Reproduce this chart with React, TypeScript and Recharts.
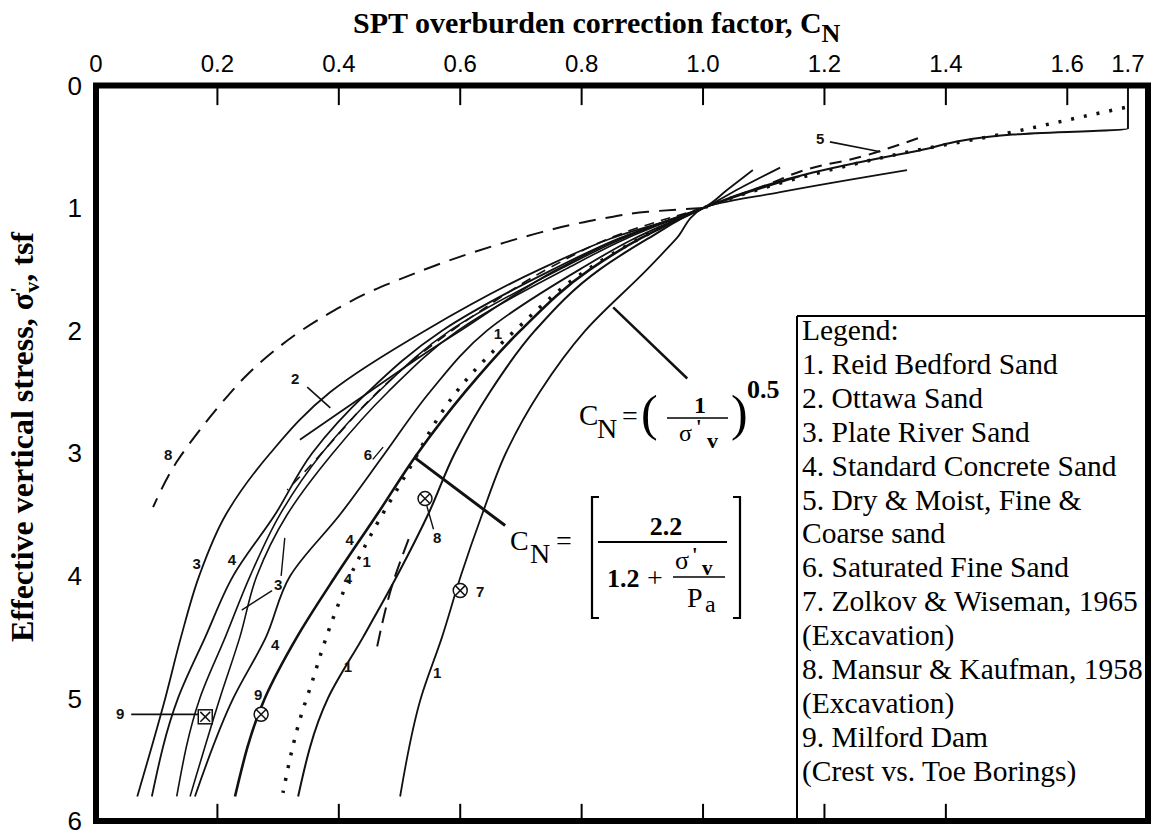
import {
  ComposedChart,
  Line,
  Scatter,
  XAxis,
  YAxis,
  ReferenceLine,
} from "recharts";

type Pt = [number, number];

// C_N (x) against effective vertical stress in tsf (y)
const PLATE_RIVER_3: Pt[] = [
  [0.068, 5.8], [0.114, 5.0], [0.14, 4.5], [0.17, 4.0], [0.214, 3.5], [0.287, 3.0],
  [0.386, 2.5], [0.542, 2.0], [0.731, 1.5], [0.847, 1.25], [1.0, 1.0], [1.04, 0.85], [1.082, 0.69],
];
const CONCRETE_4: Pt[] = [
  [0.092, 5.8], [0.135, 5.0], [0.18, 4.5], [0.226, 4.0], [0.295, 3.5], [0.356, 3.0],
  [0.448, 2.5], [0.57, 2.0], [0.753, 1.5], [0.86, 1.25], [1.0, 1.0], [1.06, 0.84], [1.127, 0.67],
];
const PLATE_RIVER_3B: Pt[] = [
  [0.133, 5.8], [0.171, 5.0], [0.213, 4.5], [0.254, 4.0], [0.303, 3.5], [0.372, 3.0],
  [0.465, 2.5], [0.583, 2.0], [0.764, 1.5], [0.867, 1.25], [1.0, 1.0], [1.07, 0.88], [1.16, 0.74],
];
const CONCRETE_4B: Pt[] = [
  [0.155, 5.8], [0.204, 5.0], [0.237, 4.5], [0.265, 4.0], [0.315, 3.5], [0.39, 3.0],
  [0.481, 2.5], [0.596, 2.0], [0.773, 1.5], [0.873, 1.25], [1.0, 1.0],
];
const SATURATED_6: Pt[] = [
  [0.163, 5.8], [0.226, 5.0], [0.28, 4.5], [0.32, 4.0], [0.402, 3.5], [0.476, 3.0],
  [0.55, 2.5], [0.644, 2.0], [0.797, 1.5], [0.886, 1.25], [1.0, 1.0],
];
const CONCRETE_4C: Pt[] = [
  [0.229, 5.8], [0.278, 5.0], [0.331, 4.5], [0.395, 4.0], [0.463, 3.5], [0.53, 3.0],
  [0.608, 2.5], [0.699, 2.0], [0.814, 1.5], [0.896, 1.25], [1.0, 1.0],
];
const REID_BEDFORD_1A: Pt[] = [
  [0.333, 5.8], [0.382, 5.0], [0.44, 4.5], [0.496, 4.0], [0.547, 3.5], [0.591, 3.0],
  [0.649, 2.5], [0.723, 2.0], [0.83, 1.5], [0.909, 1.25], [1.0, 1.0],
  [1.181, 0.71], [1.346, 0.54], [1.51, 0.4], [1.7, 0.35], [1.7, 0],
];
const REID_BEDFORD_1B: Pt[] = [
  [0.501, 5.8], [0.535, 5.0], [0.57, 4.5], [0.601, 4.0], [0.636, 3.5], [0.675, 3.0],
  [0.731, 2.5], [0.806, 2.0], [0.908, 1.5], [0.956, 1.25], [1.0, 1.0], [1.127, 0.87], [1.336, 0.69],
];
const OTTAWA_2: Pt[] = [
  [0.336, 2.89], [0.45, 2.5], [0.55, 2.16], [0.6, 2.0], [0.76, 1.5], [0.862, 1.25], [1.0, 1.0],
];
const FAN_DASHED: Pt[] = [
  [0.315, 3.3], [0.357, 3.08], [0.402, 2.83], [0.44, 2.62], [0.52, 2.25], [0.63, 1.85],
  [0.75, 1.48], [0.87, 1.2], [1.0, 1.0],
];
const SHORT_DASHED: Pt[] = [[0.463, 4.58], [0.489, 4.06], [0.515, 3.7]];
const DASHED_8: Pt[] = [
  [0.094, 3.44], [0.133, 3.07], [0.168, 2.83], [0.207, 2.59], [0.247, 2.37], [0.292, 2.17],
  [0.341, 1.99], [0.394, 1.83], [0.448, 1.69], [0.501, 1.58], [0.558, 1.47], [0.616, 1.37],
  [0.674, 1.28], [0.731, 1.2], [0.789, 1.13], [0.852, 1.07], [0.909, 1.03], [1.0, 1.0],
];
const DASHED_5: Pt[] = [
  [1.0, 1.0], [1.1, 0.82], [1.198, 0.65], [1.237, 0.61], [1.313, 0.5], [1.354, 0.43],
];
const KAYEN_DOTTED: Pt[] = [
  [0.308, 5.77], [0.336, 5.17], [0.357, 4.85], [0.374, 4.58], [0.394, 4.3], [0.418, 4.01],
  [0.446, 3.73], [0.526, 3.04], [0.555, 2.78], [0.6, 2.46], [0.69, 2.0], [0.81, 1.5],
  [0.895, 1.25], [1.0, 1.0], [1.2, 0.7], [1.35, 0.53], [1.5, 0.39], [1.547, 0.34],
  [1.62, 0.26], [1.695, 0.18],
];

// field data points: circled cross and boxed cross
const MARKERS = [
  { x: 0.542, y: 3.37, kind: "circle" },
  { x: 0.6, y: 4.12, kind: "circle" },
  { x: 0.272, y: 5.13, kind: "circle" },
  { x: 0.18, y: 5.15, kind: "square" },
];

const CURVE_LABELS = [
  { x: 0.119, y: 3.01, text: "8" },
  { x: 0.328, y: 2.39, text: "2" },
  { x: 0.166, y: 3.9, text: "3" },
  { x: 0.224, y: 3.87, text: "4" },
  { x: 0.3, y: 4.07, text: "3" },
  { x: 0.295, y: 4.56, text: "4" },
  { x: 0.267, y: 4.97, text: "9" },
  { x: 0.04, y: 5.12, text: "9" },
  { x: 0.415, y: 4.74, text: "1" },
  { x: 0.562, y: 4.79, text: "1" },
  { x: 0.418, y: 3.7, text: "4" },
  { x: 0.415, y: 4.02, text: "4" },
  { x: 0.446, y: 3.88, text: "1" },
  { x: 0.662, y: 2.02, text: "1" },
  { x: 0.448, y: 3.01, text: "6" },
  { x: 0.562, y: 3.69, text: "8" },
  { x: 0.633, y: 4.13, text: "7" },
  { x: 1.193, y: 0.43, text: "5" },
];

const LEADERS = [
  { x1: 0.348, y1: 2.46, x2: 0.386, y2: 2.63, w: 1.6 },
  { x1: 0.058, y1: 5.13, x2: 0.168, y2: 5.13, w: 1.6 },
  { x1: 0.29, y1: 4.12, x2: 0.24, y2: 4.28, w: 1.4 },
  { x1: 0.305, y1: 4.0, x2: 0.311, y2: 3.69, w: 1.4 },
  { x1: 0.456, y1: 3.05, x2: 0.473, y2: 2.95, w: 1.4 },
  { x1: 0.545, y1: 3.43, x2: 0.556, y2: 3.62, w: 1.4 },
  { x1: 1.209, y1: 0.46, x2: 1.292, y2: 0.54, w: 1.6 },
  { x1: 0.852, y1: 1.81, x2: 0.974, y2: 2.39, w: 2.5 },
  { x1: 0.526, y1: 3.04, x2: 0.674, y2: 3.59, w: 3 },
];

const X_TICKS = [0, 0.2, 0.4, 0.6, 0.8, 1.0, 1.2, 1.4, 1.6, 1.7];
const X_TOP_MARKS = [0.2, 0.4, 0.6, 0.8, 1.0, 1.2, 1.4, 1.6];
const X_BOTTOM_MARKS = [0.2, 0.4, 0.6, 0.8, 1.0, 1.2, 1.4];
const Y_TICKS = [0, 1, 2, 3, 4, 5, 6];

const LEGEND_ROWS = [
  "Legend:",
  "1. Reid Bedford Sand",
  "2. Ottawa Sand",
  "3. Plate River Sand",
  "4. Standard Concrete Sand",
  "5. Dry & Moist, Fine &",
  "Coarse sand",
  "6. Saturated Fine Sand",
  "7. Zolkov & Wiseman, 1965",
  "(Excavation)",
  "8. Mansur & Kaufman, 1958",
  "(Excavation)",
  "9. Milford Dam",
  "(Crest vs. Toe Borings)",
];

const W = 1153;
const H = 837;
const PLOT = { left: 96, top: 85.5, right: 1148, bottom: 821 };
const X_MAX = 1.733;
const INK = "#111";
const SERIF = "Liberation Serif, Times New Roman, DejaVu Serif, serif";
const NARROW = "Liberation Sans Narrow, Arial Narrow, Liberation Sans, sans-serif";

const toRows = (pts: Pt[]) =>
  pts.map(([x, y]) => ({ x, y })).sort((a, b) => a.y - b.y);

const SERIES = [
  { key: "p3", pts: PLATE_RIVER_3, w: 1.8 },
  { key: "c4", pts: CONCRETE_4, w: 1.8 },
  { key: "p3b", pts: PLATE_RIVER_3B, w: 1.6 },
  { key: "c4b", pts: CONCRETE_4B, w: 1.6 },
  { key: "s6", pts: SATURATED_6, w: 1.8 },
  { key: "c4c", pts: CONCRETE_4C, w: 2.6 },
  { key: "r1a", pts: REID_BEDFORD_1A, w: 2 },
  { key: "r1b", pts: REID_BEDFORD_1B, w: 1.8 },
  { key: "o2", pts: OTTAWA_2, w: 1.8 },
  { key: "fan", pts: FAN_DASHED, w: 1.6, dash: "10 7" },
  { key: "sd", pts: SHORT_DASHED, w: 2, dash: "16 8" },
  { key: "d8", pts: DASHED_8, w: 2, dash: "17 10" },
  { key: "d5", pts: DASHED_5, w: 2, dash: "12 8" },
  { key: "kayen", pts: KAYEN_DOTTED, w: 3.5, dash: "3 10" },
];

function MarkerShape(props: any) {
  const { cx, cy, payload } = props;
  const r = 7;
  const d = r * 0.7;
  return (
    <g stroke={INK} strokeWidth={1.5} fill="#fff">
      {payload.kind === "square" ? (
        <rect x={cx - r} y={cy - r} width={2 * r} height={2 * r} />
      ) : (
        <circle cx={cx} cy={cy} r={r} />
      )}
      <line x1={cx - d} y1={cy - d} x2={cx + d} y2={cy + d} />
      <line x1={cx - d} y1={cy + d} x2={cx + d} y2={cy - d} />
    </g>
  );
}

function LabelShape(props: any) {
  const { cx, cy, payload } = props;
  return (
    <text
      x={cx}
      y={cy}
      textAnchor="middle"
      dominantBaseline="central"
      style={{ fontFamily: "Liberation Sans, Arial, sans-serif" }}
      fontWeight="bold"
      fontSize={15}
      fill={INK}
    >
      {payload.text}
    </text>
  );
}

function Overlay() {
  const serif = { fontFamily: SERIF };
  return (
    <svg
      width={W}
      height={H}
      style={{ position: "absolute", left: 0, top: 0, pointerEvents: "none" }}
    >
      <rect
        x={PLOT.left}
        y={PLOT.top}
        width={PLOT.right - PLOT.left}
        height={PLOT.bottom - PLOT.top}
        fill="none"
        stroke="#000"
        strokeWidth={6}
      />

      <text x={353} y={33} style={serif} fontWeight="bold" fontSize={30} fill="#000">
        SPT overburden correction factor, C
        <tspan dy={9} fontSize={26}>N</tspan>
      </text>

      <text
        transform="translate(33,437) rotate(-90)"
        textAnchor="middle"
        style={serif}
        fontWeight="bold"
        fontSize={32}
        fill="#000"
      >
        Effective vertical stress, σ
        <tspan dy={-8} fontSize={22}>'</tspan>
        <tspan dy={14} dx={-6} fontSize={22}>v</tspan>
        <tspan dy={-6}>, tsf</tspan>
      </text>

      {/* C_N = (1/σ'v)^0.5 */}
      <g style={serif} fill="#000">
        <text x={579} y={425} fontSize={29}>C</text>
        <text x={597} y={438} fontSize={28}>N</text>
        <text x={622} y={425} fontSize={28}>=</text>
        <text x={641} y={430} fontSize={50}>(</text>
        <text x={700} y={413} fontSize={24} fontWeight="bold" textAnchor="middle">1</text>
        <line x1={667} y1={418} x2={728} y2={418} stroke="#000" strokeWidth={1.6} />
        <text x={679} y={441} fontSize={24}>σ</text>
        <text x={696} y={434} fontSize={20} fontWeight="bold">'</text>
        <text x={707} y={448} fontSize={22} fontWeight="bold">v</text>
        <text x={731} y={430} fontSize={50}>)</text>
        <text x={747} y={398} fontSize={26} fontWeight="bold">0.5</text>
      </g>

      {/* C_N = [2.2 / (1.2 + σ'v/Pa)] */}
      <g style={serif} fill="#000">
        <text x={510} y={550} fontSize={28}>C</text>
        <text x={530} y={563} fontSize={28}>N</text>
        <text x={556} y={550} fontSize={28}>=</text>
        <polyline points="599,497 592,497 592,618 599,618" fill="none" stroke="#000" strokeWidth={2.2} />
        <polyline points="733,497 740,497 740,618 733,618" fill="none" stroke="#000" strokeWidth={2.2} />
        <text x={666} y={535} fontSize={26} fontWeight="bold" textAnchor="middle">2.2</text>
        <line x1={598} y1={542} x2={727} y2={542} stroke="#000" strokeWidth={1.8} />
        <text x={607} y={587} fontSize={26} fontWeight="bold">1.2</text>
        <text x={647} y={587} fontSize={28}>+</text>
        <text x={675} y={569} fontSize={26}>σ</text>
        <text x={692} y={562} fontSize={20} fontWeight="bold">'</text>
        <text x={702} y={575} fontSize={21} fontWeight="bold">v</text>
        <line x1={673} y1={577} x2={725} y2={577} stroke="#000" strokeWidth={1.6} />
        <text x={687} y={607} fontSize={28}>P</text>
        <text x={705} y={612} fontSize={24}>a</text>
      </g>

      <g>
        <line x1={797} y1={316} x2={797} y2={PLOT.bottom} stroke="#000" strokeWidth={2} />
        <line x1={797} y1={316} x2={PLOT.right} y2={316} stroke="#000" strokeWidth={2} />
        {LEGEND_ROWS.map((row, i) => (
          <text key={i} x={802} y={340 + i * 33.9} style={serif} fontSize={29.5} fill="#000">
            {row}
          </text>
        ))}
      </g>
    </svg>
  );
}

export default function App() {
  const tickFont = { fill: "#000", fontSize: 24, fontFamily: NARROW };
  return (
    <div
      style={{
        position: "absolute",
        left: 0,
        top: 0,
        width: W,
        height: H,
        background: "#fff",
        overflow: "hidden",
      }}
    >
      <ComposedChart
        width={W}
        height={H}
        margin={{ top: PLOT.top - 40, right: W - PLOT.right, bottom: H - PLOT.bottom, left: PLOT.left - 60 }}
      >
        <XAxis
          xAxisId="top"
          orientation="top"
          type="number"
          dataKey="x"
          domain={[0, X_MAX]}
          allowDataOverflow
          ticks={X_TICKS}
          interval={0}
          height={40}
          axisLine={false}
          tickLine={false}
          tickSize={0}
          tickMargin={13.5}
          tick={tickFont}
          tickFormatter={(v: number) => (v === 0 ? "0" : v.toFixed(1))}
        />
        <YAxis
          type="number"
          dataKey="y"
          domain={[0, 6]}
          reversed
          allowDataOverflow
          ticks={Y_TICKS}
          interval={0}
          width={60}
          axisLine={false}
          tickLine={false}
          tickSize={0}
          tickMargin={14}
          tick={{ ...tickFont, fontSize: 26 }}
        />

        {/* inward tick marks along the top and bottom of the frame */}
        {X_TOP_MARKS.map((v) => (
          <ReferenceLine
            key={`t${v}`}
            xAxisId="top"
            segment={[{ x: v, y: 0 }, { x: v, y: 0.16 }]}
            stroke="#000"
            strokeWidth={2}
          />
        ))}
        {X_BOTTOM_MARKS.map((v) => (
          <ReferenceLine
            key={`b${v}`}
            xAxisId="top"
            segment={[{ x: v, y: 5.86 }, { x: v, y: 6 }]}
            stroke="#000"
            strokeWidth={2}
          />
        ))}

        {SERIES.map((s) => (
          <Line
            key={s.key}
            xAxisId="top"
            data={toRows(s.pts)}
            dataKey="y"
            type="monotoneY"
            stroke={INK}
            strokeWidth={s.w}
            strokeDasharray={s.dash}
            dot={false}
            activeDot={false}
            isAnimationActive={false}
          />
        ))}

        {LEADERS.map((l, i) => (
          <ReferenceLine
            key={i}
            xAxisId="top"
            segment={[{ x: l.x1, y: l.y1 }, { x: l.x2, y: l.y2 }]}
            stroke={INK}
            strokeWidth={l.w}
          />
        ))}

        <Scatter xAxisId="top" data={MARKERS} dataKey="y" shape={MarkerShape} isAnimationActive={false} />
        <Scatter xAxisId="top" data={CURVE_LABELS} dataKey="y" shape={LabelShape} isAnimationActive={false} />
      </ComposedChart>
      <Overlay />
    </div>
  );
}
